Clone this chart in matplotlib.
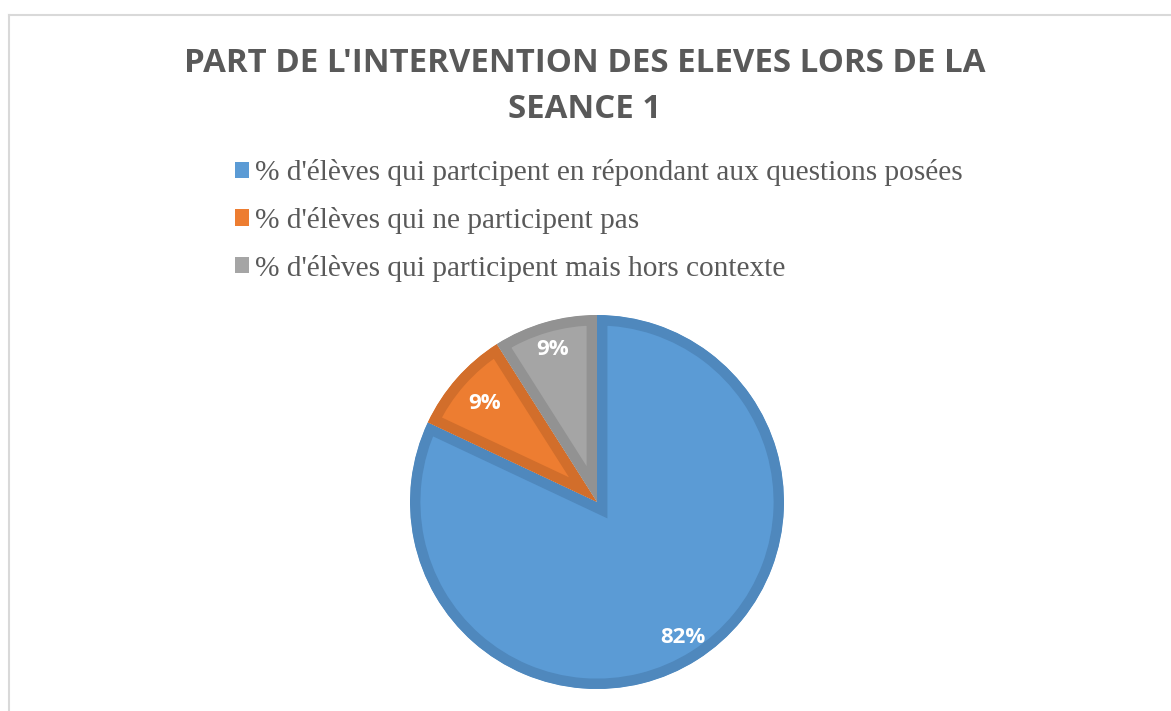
import numpy as np
import matplotlib.pyplot as plt
from matplotlib.patches import Patch
from matplotlib.lines import Line2D

# data
labels = ["% d'élèves qui partcipent en répondant aux questions posées",
          "% d'élèves qui ne participent pas",
          "% d'élèves qui participent mais hors contexte"]
values = [82, 9, 9]
colors = ['#5B9BD5', '#ED7D31', '#A5A5A5']
edge_colors = ['#4F88BD', '#D26E2B', '#929292']
title = "PART DE L'INTERVENTION DES ELEVES LORS DE LA\nSEANCE 1"

# label placement, as fraction of radius
label_dist = [0.86, 0.80, 0.85]

W, H = 1171, 711
fig = plt.figure(figsize=(W / 100, H / 100), dpi=100)
fig.patch.set_facecolor('white')

# chart frame (only top/left visible)
fig.add_artist(Line2D([9 / W, 1], [1 - 15 / H, 1 - 15 / H], color='#d9d9d9', lw=1.5))
fig.add_artist(Line2D([9 / W, 9 / W], [1 - 15 / H, 0], color='#d9d9d9', lw=1.5))

fig.text(585 / W, 1 - 86.5 / H, title, ha='center', va='center',
         fontsize=23.8, fontweight='bold', color='#595959',
         family='Open Sans', linespacing=1.5)

cx, cy, r = 597, 502, 187
ax = fig.add_axes([(cx - r) / W, (H - cy - r) / H, 2 * r / W, 2 * r / H])
wedges, texts, autotexts = ax.pie(values, colors=colors, startangle=90,
                                  counterclock=False, radius=1,
                                  autopct='%.0f%%', pctdistance=0.85,
                                  textprops=dict(color='white', fontsize=16,
                                                 fontweight='bold', family='Open Sans'))
for w, ec in zip(wedges, edge_colors):
    w.set_edgecolor(ec)
    w.set_linewidth(15)
    w.set_clip_on(True)
    w.set_clip_path(w)

for w, t, d in zip(wedges, autotexts, label_dist):
    ang = np.deg2rad((w.theta1 + w.theta2) / 2)
    t.set_position((d * np.cos(ang), d * np.sin(ang)))

ax.set_xlim(-1, 1)
ax.set_ylim(-1, 1)
ax.axis('off')

handles = [Patch(facecolor=c, edgecolor='none') for c in colors]
leg = fig.legend(handles, labels, loc='upper left',
                 bbox_to_anchor=(208 / W, 1 - 133 / H),
                 frameon=False,
                 prop=dict(family='Liberation Serif', size=21.2),
                 handlelength=0.48, handleheight=0.48, handletextpad=0.2,
                 labelspacing=0.7)
for t in leg.get_texts():
    t.set_color('#595959')

fig.savefig('out.png', dpi=100)
